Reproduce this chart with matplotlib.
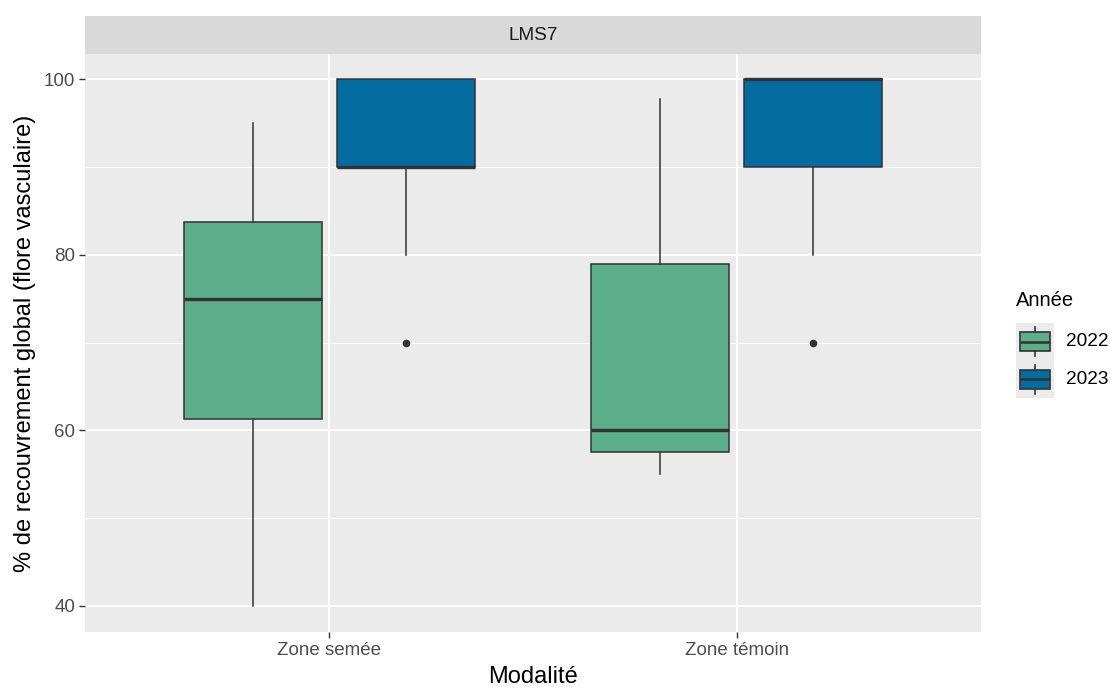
import matplotlib
matplotlib.use("Agg")
import matplotlib.pyplot as plt

plt.rcParams['font.family'] = ['Liberation Sans', 'DejaVu Sans']

# donnees
modalites = ["Zone semée", "Zone témoin"]
annees = ["2022", "2023"]
couleurs = {"2022": "#5dae8b", "2023": "#026ca0"}

# stats des boites : [min moustache, Q1, mediane, Q3, max moustache]
semee_2022 = [40, 61.25, 75, 83.75, 95]
semee_2023 = [80, 90, 90, 100, 100]
temoin_2022 = [55, 57.5, 60, 79, 97.75]
temoin_2023 = [80, 90, 100, 100, 100]
outliers = {("Zone semée", "2023"): [70], ("Zone témoin", "2023"): [70]}

valeurs = {("Zone semée", "2022"): semee_2022, ("Zone semée", "2023"): semee_2023,
           ("Zone témoin", "2022"): temoin_2022, ("Zone témoin", "2023"): temoin_2023}

fig = plt.figure(figsize=(11.1, 6.88), dpi=100)
ax = fig.add_axes([85/1110, 1-632/688, (981-85)/1110, (632-54)/688])
ax.set_facecolor("#ebebeb")

decal = {"2022": -0.188, "2023": 0.188}
for i, m in enumerate(modalites):
    for a in annees:
        s = valeurs[(m, a)]
        st = dict(whislo=s[0], q1=s[1], med=s[2], q3=s[3], whishi=s[4],
                  fliers=outliers.get((m, a), []))
        ax.bxp([st], positions=[i + 1 + decal[a]], widths=0.339, showcaps=False,
               patch_artist=True,
               boxprops=dict(facecolor=couleurs[a], edgecolor="#333333", linewidth=1.1),
               medianprops=dict(color="#333333", linewidth=2.4, solid_capstyle="butt"),
               whiskerprops=dict(color="#333333", linewidth=1.1),
               flierprops=dict(marker="o", markerfacecolor="#333333",
                               markeredgecolor="#333333", markersize=4.5),
               zorder=3)

ax.set_xlim(0.4, 2.6)
ax.set_ylim(37, 102.9)
ax.set_xticks([1, 2])
ax.set_xticklabels(modalites)
ax.set_yticks([40, 60, 80, 100])
ax.set_yticks([50, 70, 90], minor=True)
ax.grid(which="major", color="white", linewidth=1.4, zorder=0)
ax.grid(which="minor", axis="y", color="white", linewidth=0.7, zorder=0)
ax.set_axisbelow(True)
for sp in ax.spines.values():
    sp.set_visible(False)
ax.tick_params(axis="both", which="major", color="#333333", length=4, width=1,
               labelsize=13.5, labelcolor="#4d4d4d", pad=3)
ax.tick_params(axis="y", which="minor", length=0)
ax.set_xlabel("Modalité", fontsize=17, labelpad=5)
ax.set_ylabel("% de recouvrement global (flore vasculaire)", fontsize=17, labelpad=6)

# bandeau du facet
strip = fig.add_axes([85/1110, 1-54/688, (981-85)/1110, 38/688])
strip.set_facecolor("#d9d9d9")
strip.set_xticks([])
strip.set_yticks([])
for sp in strip.spines.values():
    sp.set_visible(False)
strip.text(0.5, 0.5, "LMS7", ha="center", va="center", fontsize=13.7, color="#1a1a1a",
           transform=strip.transAxes)

# legende
fig.text(1016/1110, 1-301/688, "Année", fontsize=14.5, ha="left", va="center")
for k, a in enumerate(annees):
    top = 323 + 37.5 * k
    kax = fig.add_axes([1016/1110, 1-(top+37.5)/688, 38/1110, 37.5/688])
    kax.bxp([dict(whislo=0.12, q1=0.25, med=0.5, q3=0.75, whishi=0.88, fliers=[])],
            positions=[0.5], widths=0.8, showcaps=False, patch_artist=True,
            boxprops=dict(facecolor=couleurs[a], edgecolor="#333333", linewidth=1.2),
            medianprops=dict(color="#333333", linewidth=1.8),
            whiskerprops=dict(color="#333333", linewidth=1.2))
    kax.set_xlim(0, 1)
    kax.set_ylim(1, 0)
    kax.axis("off")
    kax.add_patch(plt.Rectangle((0, 0), 1, 1, transform=kax.transAxes,
                                color="#ebebeb", zorder=0))
    fig.text(1066/1110, 1-(top+19)/688, a, fontsize=13.7, ha="left", va="center")

fig.savefig("out.png", dpi=100)
